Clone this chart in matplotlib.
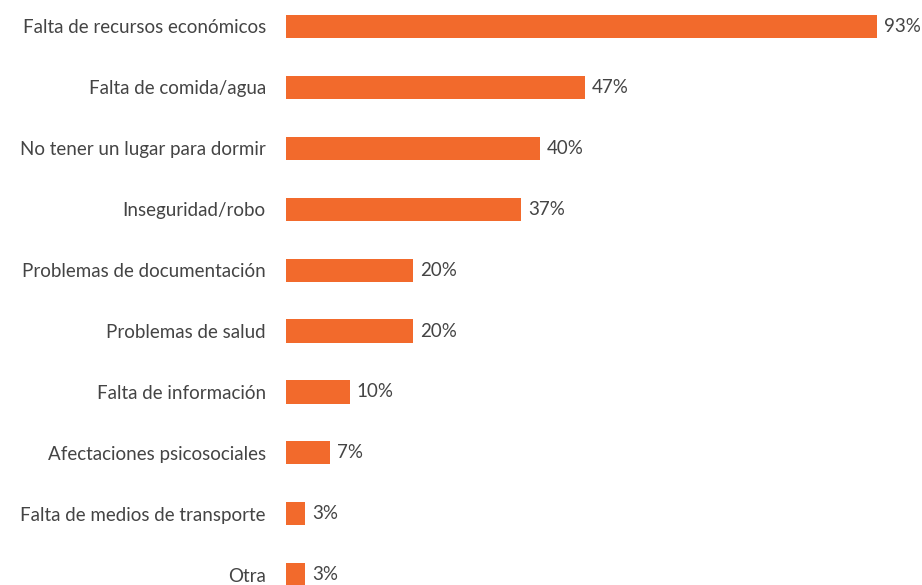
import matplotlib
matplotlib.use("Agg")
import matplotlib.pyplot as plt

categories = ["Falta de recursos económicos", "Falta de comida/agua", "No tener un lugar para dormir",
              "Inseguridad/robo", "Problemas de documentación", "Problemas de salud",
              "Falta de información", "Afectaciones psicosociales", "Falta de medios de transporte", "Otra"]
values = [93, 47, 40, 37, 20, 20, 10, 7, 3, 3]

W, H = 922, 585
fig = plt.figure(figsize=(W/100, H/100), dpi=100)
x0, x1 = 286, 877
ax = fig.add_axes([x0/W, 0, (x1-x0)/W, 1])
color = "#F26A2C"
tcolor = "#444444"
ypos = list(range(len(categories)))
ax.barh(ypos, values, height=0.38, color=color)
ax.set_xlim(0, 93)
ax.set_ylim(9.17, -0.435)
for s in ax.spines.values():
    s.set_visible(False)
ax.set_xticks([])
ax.set_yticks(ypos)
ax.set_yticklabels(categories, fontsize=13.5, color=tcolor, family="Lato", fontweight="normal")
ax.tick_params(axis="y", length=0, pad=14.5)
for y, v in zip(ypos, values):
    ax.annotate(f"{v}%", (v, y), xytext=(5, 0), textcoords="offset points", va="center", ha="left",
                fontsize=13.5, color=tcolor, family="Lato", fontweight="normal", annotation_clip=False)
fig.savefig("out.png", dpi=100)
